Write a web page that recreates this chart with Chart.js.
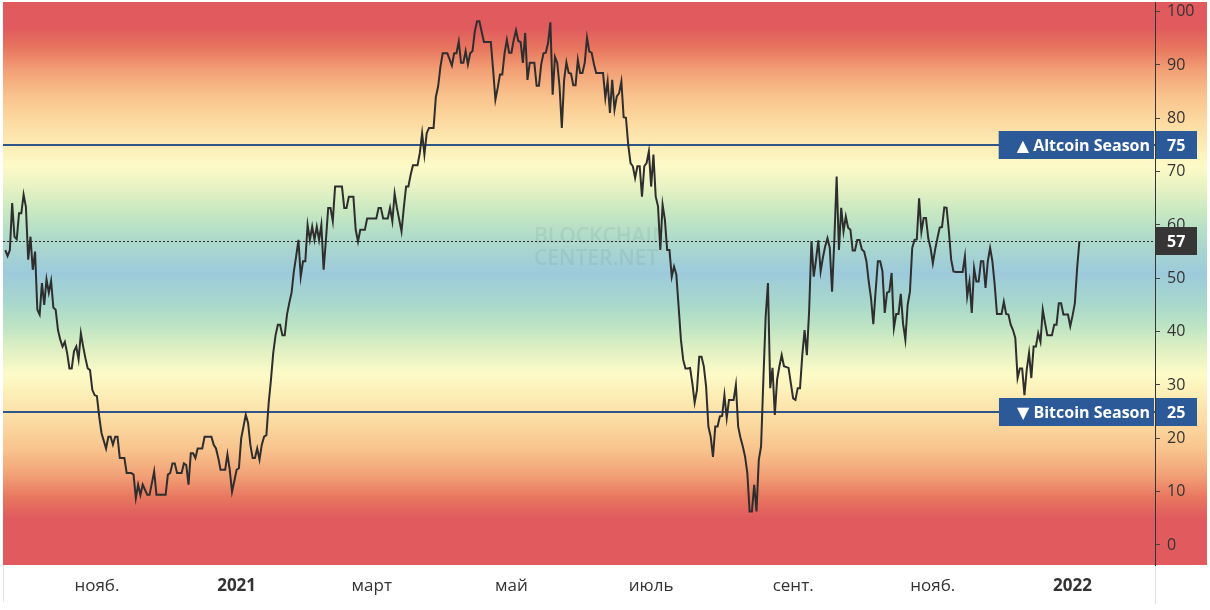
<!DOCTYPE html>
<html>
<head>
<meta charset="utf-8">
<script src="https://cdn.jsdelivr.net/npm/chart.js@4.4.0/dist/chart.umd.min.js"></script>
<style>
    html, body { margin: 0; padding: 0; background: #fff; overflow: hidden; }
    #wrap { width: 1210px; height: 610px; }
    #seasonChart { display: block; }
</style>
</head>
<body>
<div id="wrap"><canvas id="seasonChart" width="1210" height="610"></canvas></div>
<script>
// day 0 of the series
const startDate = '2020-09-22';

// days since startDate
const dayOffsets = [
    0, 1, 2, 3, 4, 5, 6, 7, 8, 9,
    10, 11, 12, 13, 14, 15, 16, 17, 18, 19,
    20, 21, 22, 23, 24, 25, 26, 27, 28, 29,
    30, 31, 32, 33, 34, 35, 36, 37, 38, 39,
    40, 41, 42, 44, 45, 46, 47, 48, 49,
    50, 52, 53, 55, 56, 57, 58, 59,
    60, 62, 63, 65, 66, 70, 71, 72, 73, 74,
    75, 77, 78, 79, 80, 81, 82, 83, 84, 86,
    87, 90, 91, 92, 93, 94, 96, 97, 98, 99,
    100, 101, 102, 103, 105, 106, 107, 108, 109,
    110, 111, 112, 113, 114, 115, 116, 117, 118, 119,
    120, 121, 122, 123, 124, 125, 126, 127, 128, 129,
    130, 131, 132, 133, 134, 135, 136, 137, 138, 139,
    140, 141, 142, 143, 144, 147, 148, 149,
    150, 152, 153, 154, 155, 157, 158,
    162, 163, 164, 165, 167, 168, 169,
    170, 171, 172, 173, 174, 175, 176, 177, 178,
    180, 181, 182, 183, 184, 185, 187, 188, 189,
    190, 191, 193, 195, 196, 197, 198, 199,
    200, 201, 202, 203, 204, 205, 206, 207, 209,
    212, 213, 214, 215, 216, 217, 218, 219,
    220, 221, 222, 223, 224, 225, 226, 227, 228, 229,
    231, 232, 233, 234, 235, 236, 237, 238, 239,
    240, 241, 242, 243, 244, 245, 246, 247, 248, 249,
    250, 251, 252, 253, 254, 255, 256, 257, 258,
    261, 262, 263, 264, 265, 266, 267, 268, 269,
    270, 271, 272, 273, 274, 275, 276, 277, 278, 279,
    280, 281, 282, 283, 284, 285, 286, 287, 288, 289,
    290, 291, 292, 293, 294, 295, 296, 297, 298, 299,
    300, 301, 302, 303, 304, 305, 306, 307, 308, 309,
    310, 311, 312, 313, 314, 315, 316, 318, 319,
    320, 321, 322, 323, 324, 325, 326, 327, 328, 329,
    330, 331, 332, 333, 334, 335, 336, 337, 338, 339,
    340, 342, 343, 344, 345, 346, 347, 348, 349,
    350, 351, 352, 353, 354, 355, 356, 357, 358, 359,
    360, 361, 362, 363, 364, 365, 366, 367, 368, 369,
    370, 371, 372, 373, 374, 375, 376, 377, 378, 379,
    380, 381, 382, 383, 384, 385, 386, 387, 388, 389,
    390, 391, 392, 393, 394, 395, 396, 397, 398, 399,
    400, 401, 402, 403, 404, 405, 406, 407, 408, 409,
    410, 411, 412, 413, 414, 415, 418, 419,
    420, 421, 422, 423, 424, 425, 426, 427, 428, 429,
    430, 431, 432, 433, 435, 436, 437, 438, 439,
    440, 441, 442, 443, 444, 445, 446, 447, 448, 449,
    450, 451, 452, 453, 454, 455, 457, 458, 459,
    460, 461, 462, 464, 465, 466, 467, 468, 469
];

// altcoin season index, one value per entry of dayOffsets
const seasonIndex = [
    55.3, 54.2, 55.3, 64.1, 57.8, 57.3, 62.2, 62.2, 65.7, 63.4,
    53.5, 57.8, 51.6, 55, 44.1, 43.2, 49.1, 45, 49.8, 47.3,
    49.5, 44.5, 44.1, 40.3, 38.5, 37.2, 38.1, 36, 33.1, 33.1,
    36.3, 37.2, 34.8, 39.7, 37.2, 35, 33.1, 32.8, 29.1, 28.1,
    27.9, 24.1, 21, 18.1, 20.3, 20.3, 18.8, 20.3, 20.3,
    16.3, 16.3, 13.5, 13.5, 13.2, 8.8, 11.3, 9.4,
    11.3, 9.4, 9.4, 13.8, 9.4, 9.4, 13.2, 13.5, 15.3, 15.3,
    13.5, 13.5, 15.3, 15, 11.3, 17.2, 17.2, 16.3, 18.1, 18.1,
    20.3, 20.3, 18.8, 18.1, 16.3, 14.1, 14.1, 17, 14.1, 10,
    12, 14.1, 14.4, 20, 24.4, 22.9, 18.8, 16.3, 16.3,
    18.1, 16, 18.8, 20.3, 20.6, 26.6, 31, 36, 39.3, 41.3,
    41.3, 39.3, 39.3, 43.2, 45.4, 47.3, 51.3, 54.1, 57.2, 50.3,
    53.2, 53.2, 60, 57.2, 59.7, 57.2, 59.7, 57.2, 60, 51.6,
    57.2, 63.2, 63.2, 60.7, 67.2, 67.2, 63.2, 63.2,
    65.3, 65.3, 59.1, 56.9, 59.1, 59.1, 61.2,
    61.2, 63.2, 63.2, 61.2, 61.2, 63.2, 60.7,
    65.9, 63.2, 61, 58.8, 63.2, 67.2, 67.2, 69.4, 71.2,
    71.2, 73.5, 77.2, 73.2, 77.2, 78.2, 78.2, 84, 86,
    89.7, 92.2, 92.2, 89.9, 92.2, 92.2, 94.4, 90.4,
    90.4, 92.6, 90.1, 92.2, 92.6, 96.3, 98.2, 98.2, 94.3,
    94.3, 89.1, 83.5, 85.7, 88.2, 88.2, 92.2, 94.7,
    92.3, 92.3, 94.7, 96.5, 94.5, 94.3, 90.4, 96, 87.2, 90.4,
    90.4, 86.1, 86.1, 90.1, 92.2, 92.3, 94.1, 98, 84.4,
    91.5, 90.4, 86, 78.2, 87.2, 90.5, 88.5, 88.4, 86.2, 86.2,
    91, 88.5, 88.5, 90.4, 95.1, 92.5, 92.3, 90.2, 88.5,
    88.5, 83.8, 86.9, 81, 87.2, 81.6, 84.1, 84.7, 86.9,
    80.2, 80.1, 75, 71.6, 71, 68.8, 71, 71, 65.3, 71,
    71.6, 73.8, 67.2, 73.2, 65.3, 63.5, 55.3, 63.8, 61, 55.3,
    55.3, 50.3, 52.2, 50.7, 44.7, 38.5, 34.7, 33.1, 33.1, 33.2,
    30.3, 26.7, 29, 35.3, 35.3, 33.5, 29.7, 22.2, 20.3, 16.5,
    22.2, 22.2, 24.1, 24.2, 28.1, 23.8, 27.2, 27.2, 30,
    22.2, 20.1, 18.5, 16.6, 13.5, 6.3, 6.3, 11.3, 6.3, 15.9,
    18.5, 31, 42.8, 49.1, 29.4, 33.2, 24.4, 31, 33.5, 35.6,
    33.5, 33.2, 30.3, 27.5, 27.2, 29.4, 29.4, 35.6, 40.3,
    35.6, 44.1, 57, 50.3, 53.5, 57.1, 51.3, 53.9, 56, 57.5,
    55.7, 47.5, 57.3, 69.1, 55.3, 63.2, 58.8, 61.6, 59.5, 59.1,
    55.2, 55.2, 57.2, 57.2, 55.4, 55, 53.2, 49.4, 46.3, 41.4,
    47.5, 53.2, 53.2, 51.3, 43.5, 47.3, 47.5, 51, 40.7, 43.3,
    43.3, 47.1, 41.5, 38.5, 45, 47.5, 55.7, 57.2, 57.3, 65,
    58.7, 61.3, 61.3, 57.5, 55.7, 52.8, 55.4, 57.5, 59.5, 59.6,
    63.3, 63.2, 58.8, 53.5, 51.3, 51.2, 51.2, 54.1,
    46.6, 49.4, 43.5, 51.9, 49.4, 49.4, 53.2, 53.2, 48.2, 53.2,
    55.7, 53.2, 48.8, 43.3, 43.3, 45.6, 43.3, 43.2, 41.3,
    40.3, 38.8, 31.3, 33.1, 33.1, 28.1, 32.9, 36, 31.3, 37.2,
    37.2, 39.7, 38.1, 44.1, 41.6, 39.3, 39.3, 41.3, 41.3,
    45.3, 45.3, 43.2, 43.2, 41, 43, 45.3, 51.9, 57
];

const tickDates = ['2020-11-01', '2021-01-01', '2021-03-01', '2021-05-01', '2021-07-01', '2021-09-01', '2021-11-01', '2022-01-01'];
const tickLabels = ['нояб.', '2021', 'март', 'май', 'июль', 'сент.', 'нояб.', '2022'];
const yTicks = [0, 10, 20, 30, 40, 50, 60, 70, 80, 90, 100];

const seasonLevels = [75, 25];
const seasonNames = ['▲ Altcoin Season', '▼ Bitcoin Season'];

// background colour bands (index value -> colour)
const bandStops = [
    [101.8, '#e05a5e'], [97, '#e05a5e'], [93, '#e8775f'], [89, '#f2a076'], [84, '#f9c48d'],
    [79, '#fcdca2'], [75, '#fcecb5'], [71, '#fdfac7'], [67, '#e7f2c3'], [63, '#cbe9c1'],
    [58, '#b0dcc9'], [51, '#9ccadb'], [45, '#a9d8cc'], [41, '#bde4c4'], [37, '#ddefc2'],
    [32, '#fdfbc8'], [28, '#fcedb5'], [23, '#fbdaa1'], [18, '#f8c48d'], [13, '#f2a076'],
    [9, '#e8775f'], [5, '#e05a5e'], [-3.75, '#e05a5e']
];

const FONT = '"Open Sans", "DejaVu Sans", sans-serif';

function dayOf(iso) {
    return Math.round((Date.parse(iso) - Date.parse(startDate)) / 86400000);
}

const lastValue = seasonIndex[seasonIndex.length - 1];

const seasonPlugin = {
    id: 'seasonPlugin',
    beforeDraw(chart) {
        const { ctx, chartArea: a, scales: { y } } = chart;
        ctx.save();
        ctx.fillStyle = '#fff';
        ctx.fillRect(0, 0, chart.width, chart.height);

        // colour bands run under the plot and the price axis
        const g = ctx.createLinearGradient(0, a.top, 0, a.bottom);
        bandStops.forEach(([v, c]) => {
            const p = (y.getPixelForValue(v) - a.top) / (a.bottom - a.top);
            g.addColorStop(Math.min(1, Math.max(0, p)), c);
        });
        ctx.fillStyle = g;
        ctx.fillRect(a.left, a.top, 1207 - a.left, a.bottom - a.top);

        // thin separators in the time strip
        ctx.strokeStyle = '#e2e5ea';
        ctx.lineWidth = 1;
        ctx.beginPath();
        ctx.moveTo(a.left + 0.5, a.bottom);
        ctx.lineTo(a.left + 0.5, chart.height - 8);
        ctx.moveTo(a.right + 0.5, a.bottom);
        ctx.lineTo(a.right + 0.5, chart.height - 6);
        ctx.stroke();

        // watermark
        ctx.font = '600 21px ' + FONT;
        ctx.fillStyle = 'rgba(100, 112, 125, 0.12)';
        ctx.textAlign = 'left';
        ctx.textBaseline = 'alphabetic';
        ctx.fillText('BLOCKCHAIN', 534, 243);
        ctx.fillText('CENTER.NET', 534, 265);
        ctx.restore();
    },
    beforeDatasetsDraw(chart) {
        const { ctx, chartArea: a, scales: { y } } = chart;
        ctx.save();
        ctx.strokeStyle = '#2f5589';
        ctx.lineWidth = 2;
        seasonLevels.forEach(lvl => {
            const py = Math.round(y.getPixelForValue(lvl));
            ctx.beginPath();
            ctx.moveTo(a.left, py);
            ctx.lineTo(a.right, py);
            ctx.stroke();
        });
        const pl = Math.round(y.getPixelForValue(lastValue)) + 0.5;
        ctx.strokeStyle = '#2a2a2a';
        ctx.lineWidth = 1;
        ctx.setLineDash([2, 2]);
        ctx.beginPath();
        ctx.moveTo(a.left, pl);
        ctx.lineTo(a.right, pl);
        ctx.stroke();
        ctx.restore();
    },
    afterDraw(chart) {
        const { ctx, chartArea: a, scales: { y } } = chart;
        ctx.save();
        ctx.font = 'bold 16px ' + FONT;
        ctx.textBaseline = 'middle';
        seasonLevels.forEach((lvl, i) => {
            const py = Math.round(y.getPixelForValue(lvl));
            const w = ctx.measureText(seasonNames[i]).width;
            ctx.fillStyle = '#2c5a98';
            ctx.fillRect(a.right - 5 - w - 18, py - 14, w + 22, 28);
            ctx.fillRect(a.right + 1, py - 14, 41, 28);
            ctx.fillStyle = '#fff';
            ctx.textAlign = 'right';
            ctx.fillText(seasonNames[i], a.right - 5, py + 1);
            ctx.textAlign = 'left';
            ctx.fillText(String(lvl), a.right + 12, py + 1);
        });
        const pl = Math.round(y.getPixelForValue(lastValue));
        ctx.fillStyle = '#363636';
        ctx.fillRect(a.right + 1, pl - 14, 41, 28);
        ctx.fillStyle = '#fff';
        ctx.textAlign = 'left';
        ctx.fillText(String(Math.round(lastValue)), a.right + 12, pl + 1);
        ctx.restore();
    }
};

const ctx = document.getElementById('seasonChart').getContext('2d');
new Chart(ctx, {
    type: 'line',
    data: {
        datasets: [{
            data: dayOffsets.map((d, i) => ({ x: d, y: seasonIndex[i] })),
            borderColor: '#2e2e2e',
            borderWidth: 2,
            pointRadius: 0,
            tension: 0
        }]
    },
    options: {
        responsive: false,
        devicePixelRatio: 1,
        animation: false,
        events: [],
        layout: { padding: { left: 3, top: 2, right: 3, bottom: 5 } },
        plugins: {
            legend: { display: false },
            tooltip: { enabled: false }
        },
        scales: {
            x: {
                type: 'linear',
                min: dayOf('2020-09-21'),
                max: dayOf('2022-02-06'),
                afterBuildTicks: s => { s.ticks = tickDates.map(d => ({ value: dayOf(d) })); },
                afterFit: s => { s.height = 40; s.paddingLeft = 0; s.paddingRight = 0; },
                grid: { display: false, drawTicks: false },
                border: { display: false },
                ticks: {
                    autoSkip: false,
                    maxRotation: 0,
                    padding: 11,
                    color: '#333',
                    callback: (v, i) => tickLabels[i],
                    font: c => ({
                        family: FONT,
                        size: 17,
                        weight: /^\d{4}$/.test(tickLabels[c.index]) ? 'bold' : 'normal'
                    })
                }
            },
            y: {
                position: 'right',
                min: -3.75,
                max: 101.8,
                afterBuildTicks: s => { s.ticks = yTicks.map(v => ({ value: v })); },
                afterFit: s => { s.width = 52; s.paddingTop = 0; s.paddingBottom = 0; },
                grid: { drawOnChartArea: false, color: '#444', tickLength: 5 },
                border: { display: true, color: '#333', width: 1 },
                ticks: { color: '#333', padding: 7, font: { family: FONT, size: 16 } }
            }
        }
    },
    plugins: [seasonPlugin]
});
</script>
</body>
</html>
